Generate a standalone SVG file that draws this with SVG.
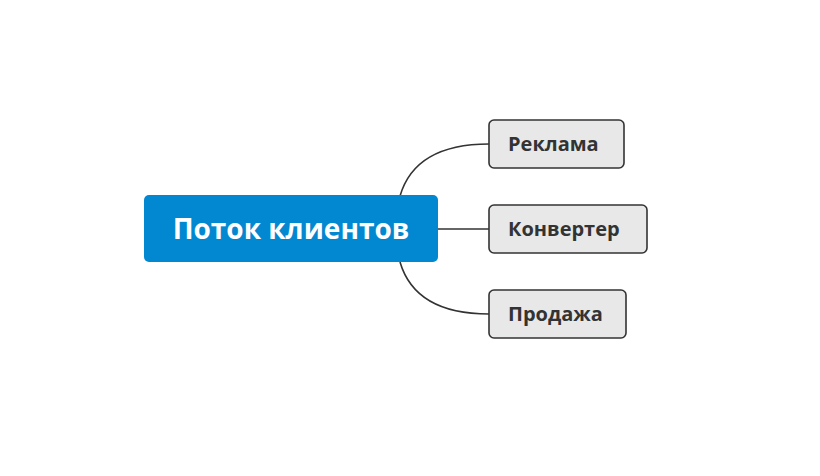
<svg xmlns="http://www.w3.org/2000/svg" width="820" height="476" viewBox="0 0 820 476">
<style>
.main{fill:#0288d1}
.sub{fill:#e8e8e8;stroke:#333;stroke-width:1.6}
.mt{font-family:"Open Sans","Noto Sans","DejaVu Sans",sans-serif;font-weight:700;font-size:28px;fill:#fff;text-anchor:middle}
.st{font-family:"Open Sans","Noto Sans","DejaVu Sans",sans-serif;font-weight:700;font-size:20px;fill:#333}
.c{fill:none;stroke:#333;stroke-width:1.6}
</style>
<rect width="820" height="476" fill="#fff"/>
<g id="connectors">
<path class="c" d="M400,196 C410,162 440,144 489,144"/>
<path class="c" d="M438,229 L489,229"/>
<path class="c" d="M400,262 C410,296 440,314 489,314"/>
</g>
<g id="root">
<rect class="main" x="144" y="195" width="294" height="67" rx="5"/>
<text class="mt" x="291" y="239">Поток клиентов</text>
</g>
<g id="n1">
<rect class="sub" x="489" y="120" width="135" height="48" rx="5"/>
<text class="st" x="508" y="151">Реклама</text>
</g>
<g id="n2">
<rect class="sub" x="489" y="205" width="158" height="48" rx="5"/>
<text class="st" x="508" y="236">Конвертер</text>
</g>
<g id="n3">
<rect class="sub" x="489" y="290" width="137" height="48" rx="5"/>
<text class="st" x="508" y="321">Продажа</text>
</g>
</svg>
